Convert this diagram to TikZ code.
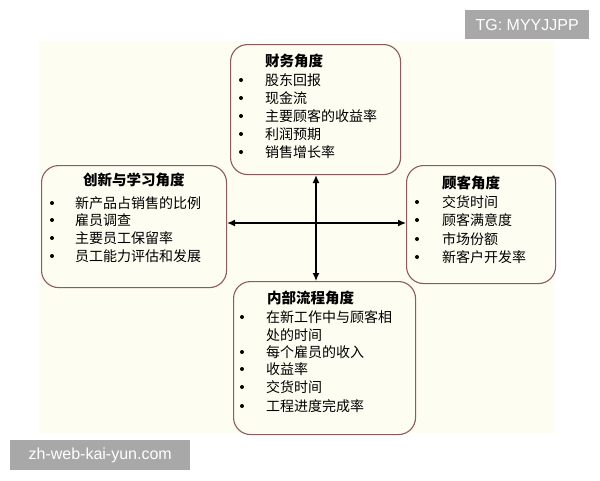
\documentclass[tikz,border=0pt]{standalone}
\usepackage{fontspec}
\setmainfont{Liberation Sans}
\newfontfamily\cjk{Noto Sans CJK SC}
\usetikzlibrary{arrows.meta}
\definecolor{ivory}{RGB}{253,253,242}
\definecolor{boxline}{RGB}{140,92,92}
\definecolor{markgray}{RGB}{168,168,168}
\tikzset{
  card/.style={draw=boxline, line width=1.1pt, rounded corners=17pt, anchor=north west, inner sep=0pt},
  ttl/.style={anchor=west, inner sep=0pt, font=\cjk\fontsize{14.5}{16}\selectfont\bfseries},
  itm/.style={anchor=west, inner sep=0pt, font=\cjk\fontsize{14}{16}\selectfont},
  dot/.style={circle, fill=black, inner sep=0pt, minimum size=4pt},
  link/.style={line width=1.3pt, {Latex[length=8pt,width=7pt]}-{Latex[length=8pt,width=7pt]}},
  wmark/.style={fill=markgray, inner sep=0pt, anchor=north west},
  wtext/.style={text=white, font=\fontsize{16}{18}\selectfont, inner sep=0pt}
}
\begin{document}
\begin{tikzpicture}[x=1pt,y=-1pt]
\useasboundingbox (0,0) rectangle (600,480);
\fill[ivory] (39,41) rectangle (554,433);
% boxes
\node[card, minimum width=170pt, minimum height=130pt] (fin) at (230,44) {};
\node[card, minimum width=185pt, minimum height=122pt] (learn) at (41,165) {};
\node[card, minimum width=149pt, minimum height=118pt] (cust) at (406,165) {};
\node[card, minimum width=182pt, minimum height=153pt] (proc) at (233,281) {};
% top
\node[ttl] (finT) at (265,61) {财务角度};
\foreach \t/\y [count=\i] in {股东回报/80, 现金流/98, 主要顾客的收益率/116, 利润预期/134, 销售增长率/152}{
  \node[dot] (finD\i) at (241,\y) {};
  \node[itm] (finI\i) at (265,\y) {\t};
}
% left
\node[ttl] (learnT) at (83,180) {创新与学习角度};
\foreach \t/\y [count=\i] in {新产品占销售的比例/203, 雇员调查/220, 主要员工保留率/238, 员工能力评估和发展/256}{
  \node[dot] (learnD\i) at (52,\y) {};
  \node[itm] (learnI\i) at (75,\y) {\t};
}
% right
\node[ttl] (custT) at (442,183) {顾客角度};
\foreach \t/\y [count=\i] in {交货时间/202, 顾客满意度/220, 市场份额/239, 新客户开发率/257}{
  \node[dot] (custD\i) at (417,\y) {};
  \node[itm] (custI\i) at (442,\y) {\t};
}
% bottom
\node[ttl] (procT) at (267,298) {内部流程角度};
\node[dot] (procD1) at (242,317) {};
\node[itm] (procI1) at (266,317) {在新工作中与顾客相};
\node[itm] (procI1b) at (266,335) {处的时间};
\foreach \t/\y [count=\i from 2] in {每个雇员的收入/352, 收益率/369, 交货时间/387, 工程进度完成率/406}{
  \node[dot] (procD\i) at (242,\y) {};
  \node[itm] (procI\i) at (266,\y) {\t};
}
% arrows
\coordinate (cross) at (316,223);
\draw[link] (learn.east |- cross) -- (cust.west |- cross);
\draw[link] (fin.south -| cross) -- (proc.north -| cross);
% watermarks
\node[wmark, minimum width=124pt, minimum height=29pt] (tg) at (465,10) {};
\node[wtext] (tgT) at (tg.center) {TG: MYYJJPP};
\node[wmark, minimum width=180pt, minimum height=30pt] (web) at (10,440) {};
\node[wtext] (webT) at (web.center) {zh-web-kai-yun.com};
\end{tikzpicture}
\end{document}
